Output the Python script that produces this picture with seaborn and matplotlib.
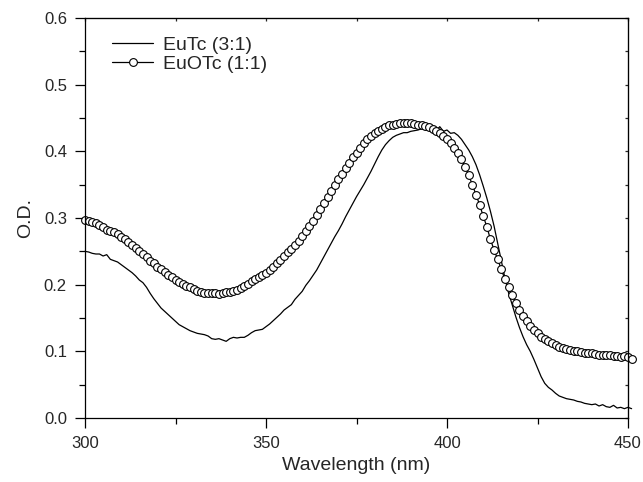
import matplotlib
matplotlib.use('Agg')
import matplotlib.pyplot as plt
import numpy as np
import seaborn as sns
from matplotlib.ticker import MultipleLocator

# wavelength grid (nm), one reading per nm
wavelength = np.arange(300, 452)

# EuTc (3:1) - solid line
eutc = [
    0.250, 0.249, 0.247, 0.246, 0.246, 0.243, 0.245, 0.238, 0.236, 0.234,  # 300-309
    0.230, 0.226, 0.222, 0.218, 0.213, 0.207, 0.203, 0.196, 0.187, 0.179,  # 310-319
    0.172, 0.165, 0.160, 0.155, 0.150, 0.145, 0.140, 0.137, 0.134, 0.131,  # 320-329
    0.129, 0.127, 0.126, 0.125, 0.123, 0.119, 0.118, 0.119, 0.117, 0.115,  # 330-339
    0.119, 0.121, 0.120, 0.121, 0.121, 0.124, 0.128, 0.131, 0.132, 0.133,  # 340-349
    0.137, 0.141, 0.146, 0.151, 0.156, 0.162, 0.166, 0.170, 0.178, 0.184,  # 350-359
    0.190, 0.199, 0.206, 0.214, 0.222, 0.232, 0.242, 0.252, 0.262, 0.272,  # 360-369
    0.281, 0.291, 0.302, 0.312, 0.322, 0.332, 0.341, 0.350, 0.360, 0.370,  # 370-379
    0.381, 0.392, 0.402, 0.410, 0.416, 0.421, 0.424, 0.426, 0.428, 0.428,  # 380-389
    0.430, 0.431, 0.432, 0.434, 0.433, 0.436, 0.433, 0.431, 0.437, 0.430,  # 390-399
    0.432, 0.427, 0.428, 0.424, 0.418, 0.410, 0.402, 0.392, 0.380, 0.365,  # 400-409
    0.348, 0.330, 0.310, 0.288, 0.262, 0.236, 0.210, 0.188, 0.170, 0.152,  # 410-419
    0.136, 0.122, 0.110, 0.100, 0.088, 0.075, 0.062, 0.052, 0.046, 0.042,  # 420-429
    0.037, 0.033, 0.031, 0.029, 0.028, 0.027, 0.025, 0.024, 0.022, 0.021,  # 430-439
    0.020, 0.021, 0.018, 0.020, 0.017, 0.016, 0.019, 0.015, 0.016, 0.014,  # 440-449
    0.016, 0.014,                                                          # 450-451
]

# EuOTc (1:1) - open circles
euotc = [
    0.297, 0.295, 0.294, 0.292, 0.290, 0.286, 0.282, 0.280, 0.279, 0.276,  # 300-309
    0.272, 0.268, 0.264, 0.259, 0.255, 0.250, 0.246, 0.241, 0.236, 0.232,  # 310-319
    0.227, 0.223, 0.219, 0.215, 0.211, 0.207, 0.204, 0.201, 0.198, 0.196,  # 320-329
    0.194, 0.191, 0.189, 0.188, 0.187, 0.187, 0.187, 0.186, 0.188, 0.189,  # 330-339
    0.189, 0.190, 0.192, 0.195, 0.198, 0.201, 0.205, 0.209, 0.212, 0.214,  # 340-349
    0.218, 0.222, 0.227, 0.232, 0.237, 0.243, 0.249, 0.254, 0.260, 0.266,  # 350-359
    0.273, 0.280, 0.288, 0.296, 0.305, 0.314, 0.322, 0.331, 0.340, 0.349,  # 360-369
    0.358, 0.366, 0.375, 0.383, 0.391, 0.398, 0.405, 0.412, 0.418, 0.423,  # 370-379
    0.428, 0.431, 0.434, 0.437, 0.439, 0.440, 0.441, 0.442, 0.442, 0.443,  # 380-389
    0.442, 0.441, 0.440, 0.439, 0.438, 0.436, 0.434, 0.430, 0.427, 0.423,  # 390-399
    0.418, 0.412, 0.405, 0.397, 0.388, 0.377, 0.364, 0.350, 0.335, 0.320,  # 400-409
    0.303, 0.287, 0.268, 0.252, 0.238, 0.223, 0.208, 0.196, 0.184, 0.173,  # 410-419
    0.162, 0.153, 0.145, 0.138, 0.132, 0.127, 0.122, 0.118, 0.115, 0.112,  # 420-429
    0.110, 0.107, 0.105, 0.103, 0.102, 0.101, 0.100, 0.099, 0.098, 0.097,  # 430-439
    0.097, 0.096, 0.095, 0.095, 0.094, 0.094, 0.093, 0.093, 0.092, 0.093,  # 440-449
    0.092, 0.089,                                                          # 450-451
]

sns.set_style('ticks')
plt.rcParams['font.family'] = ['Liberation Sans', 'DejaVu Sans']

fig = plt.figure(figsize=(6.43, 4.82), dpi=100)
ax = fig.add_axes([85 / 643, 1 - 418 / 482, 543 / 643, 400 / 482])

sns.lineplot(x=wavelength, y=eutc, ax=ax, color='black', linewidth=0.9,
             label='EuTc (3:1)', clip_on=False)
sns.lineplot(x=wavelength, y=euotc, ax=ax, color='black', linewidth=0.9,
             marker='o', markersize=5.6, markerfacecolor='white',
             markeredgecolor='black', markeredgewidth=0.8,
             label='EuOTc (1:1)', clip_on=False)

ax.set(xlim=(300, 450), ylim=(0, 0.6))
ax.xaxis.set_major_locator(MultipleLocator(50))
ax.xaxis.set_minor_locator(MultipleLocator(25))
ax.yaxis.set_major_locator(MultipleLocator(0.1))
ax.yaxis.set_minor_locator(MultipleLocator(0.05))
ax.yaxis.set_major_formatter(matplotlib.ticker.FormatStrFormatter('%.1f'))

for s in ax.spines.values():
    s.set_linewidth(0.9)
    s.set_color('black')

ax.tick_params(which='major', direction='out', length=7, width=0.9,
               labelsize=12, color='black', pad=6)
ax.tick_params(which='minor', direction='out', length=4, width=0.9, color='black')

# small inward ticks on the top and right frame
top = ax.secondary_xaxis('top')
top.xaxis.set_major_locator(MultipleLocator(25))
top.tick_params(direction='in', length=2, width=0.9, labeltop=False)
right = ax.secondary_yaxis('right')
right.yaxis.set_major_locator(MultipleLocator(0.05))
right.tick_params(direction='in', length=2, width=0.9, labelright=False)

ax.set_xlabel('Wavelength (nm)', fontsize=14, labelpad=4)
ax.set_ylabel('O.D.', fontsize=14, labelpad=7)

ax.legend(loc='upper left', bbox_to_anchor=(0.05, 0.955), frameon=False,
          fontsize=14, handlelength=2.1, handletextpad=0.5, labelspacing=0.1,
          borderaxespad=0, borderpad=0)

plt.savefig('out.png', dpi=100)
